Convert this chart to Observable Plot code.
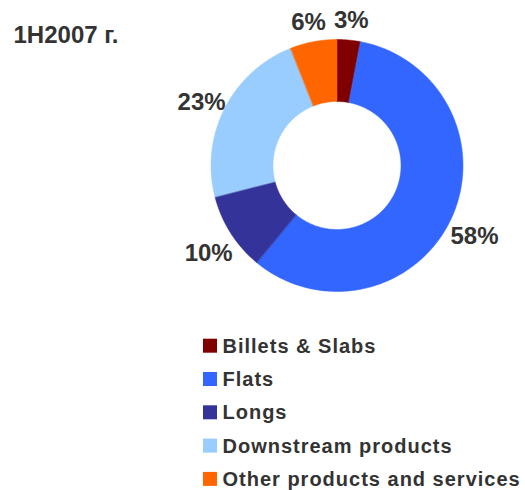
<!DOCTYPE html>
<html>
<head>
<meta charset="utf-8">
<script src="https://cdn.jsdelivr.net/npm/d3@7"></script>
<script src="https://cdn.jsdelivr.net/npm/@observablehq/plot@0.6"></script>
<style>
  html, body { margin: 0; padding: 0; background: #ffffff; }
  #chart svg { display: block; }
</style>
</head>
<body>
<div id="chart"></div>
<script>
// ---- data ----
const title = "1H2007 г.";
const categories = ["Billets & Slabs", "Flats", "Longs", "Downstream products", "Other products and services"];
const shares = [3, 58, 10, 23, 6];
const pctLabels = ["3%", "58%", "10%", "23%", "6%"];
const colors = ["#800000", "#3366FF", "#333399", "#99CCFF", "#FF6600"];

// ---- layout ----
const W = 525, H = 490;
const cx = 336.5, cy = 165, R = 126, r0 = 64, labelR = 152;
const font = "'Liberation Sans', Arial, Helvetica, sans-serif";
const textColor = "#333333";

const total = d3.sum(shares);
const cum = d3.cumsum(shares);
const slices = categories.map((name, i) => {
  const a0 = 2 * Math.PI * (cum[i] - shares[i]) / total;
  const a1 = 2 * Math.PI * cum[i] / total;
  return {name, value: shares[i], color: colors[i], label: pctLabels[i], a0, a1, mid: (a0 + a1) / 2};
});

// polygon points for each donut slice (angles clockwise from 12 o'clock)
const pts = [];
for (const s of slices) {
  const n = Math.max(2, Math.ceil((s.a1 - s.a0) / (Math.PI / 180)));
  for (let k = 0; k <= n; k++) {
    const a = s.a0 + (s.a1 - s.a0) * k / n;
    pts.push({name: s.name, color: s.color, x: cx + R * Math.sin(a), y: cy - R * Math.cos(a)});
  }
  for (let k = n; k >= 0; k--) {
    const a = s.a0 + (s.a1 - s.a0) * k / n;
    pts.push({name: s.name, color: s.color, x: cx + r0 * Math.sin(a), y: cy - r0 * Math.cos(a)});
  }
}

const labelPos = slices.map(s => ({
  text: s.label,
  x: cx + labelR * Math.sin(s.mid),
  y: cy - labelR * Math.cos(s.mid)
}));

const legendTop = 345.7, legendStep = 33.3, sw = 14, legendX = 203;
const legend = slices.map((s, i) => ({name: s.name, color: s.color, yc: legendTop + i * legendStep}));

const chart = Plot.plot({
  width: W,
  height: H,
  margin: 0,
  style: {fontFamily: font, background: "#ffffff"},
  x: {domain: [0, W], range: [0, W], axis: null},
  y: {domain: [0, H], range: [0, H], axis: null},
  color: {type: "identity"},
  marks: [
    Plot.line(pts, {x: "x", y: "y", z: "name", fill: "color", stroke: "color", strokeWidth: 0.5, curve: "linear-closed"}),
    Plot.text(labelPos, {x: "x", y: "y", text: "text", fontSize: 24, fontWeight: "bold", fill: textColor, textAnchor: "middle", lineAnchor: "middle", dy: 6}),
    Plot.text([title], {frameAnchor: "top-left", dx: 13, dy: 25, text: d => d, fontSize: 24, fontWeight: "bold", fill: textColor, textAnchor: "start", lineAnchor: "top"}),
    Plot.rect(legend, {x1: () => legendX, x2: () => legendX + sw, y1: d => d.yc - sw / 2, y2: d => d.yc + sw / 2, fill: "color"}),
    Plot.text(legend, {x: () => legendX + sw + 5, y: "yc", text: "name", fontSize: 20, fontWeight: "bold", fill: textColor, textAnchor: "start", lineAnchor: "middle"})
  ]
});
// legend labels are slightly letter-spaced in the reference
chart.querySelectorAll("text").forEach(t => {
  if (categories.includes(t.textContent)) t.setAttribute("letter-spacing", "1");
});
document.getElementById("chart").appendChild(chart);
</script>
</body>
</html>
